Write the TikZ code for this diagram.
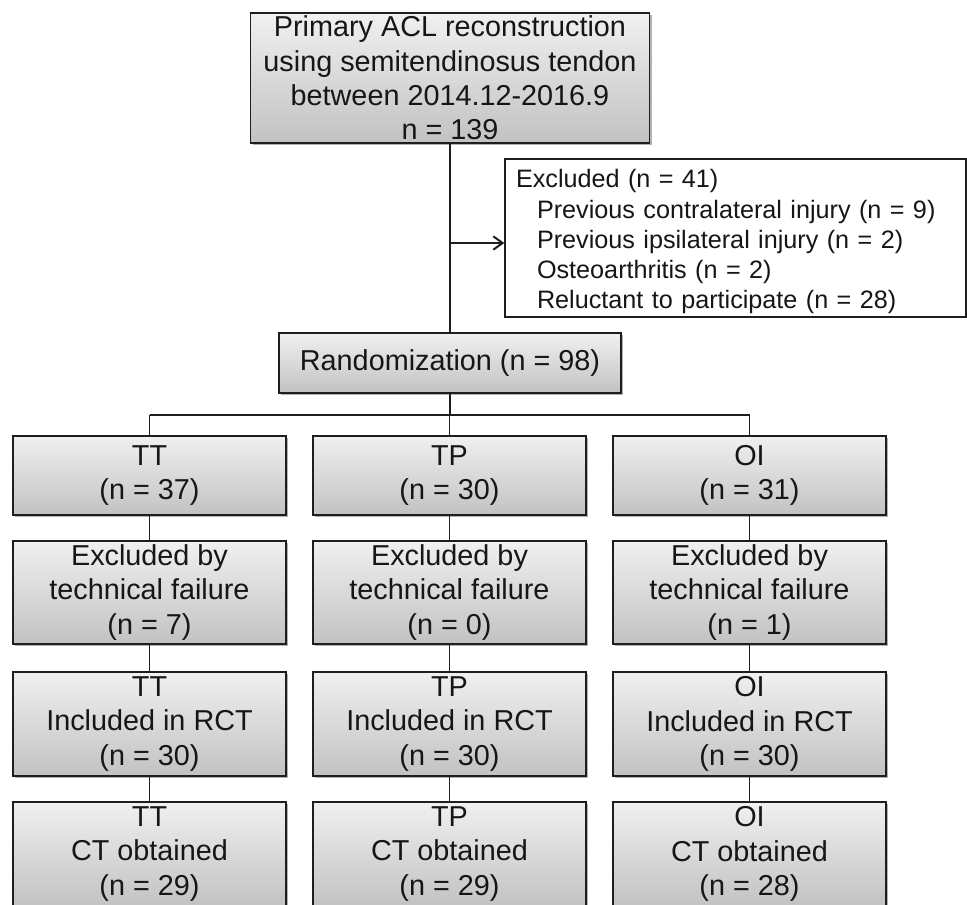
\documentclass[tikz,border=0pt]{standalone}
\usepackage{fontspec}
\setmainfont{Liberation Sans}
\usetikzlibrary{shadows,arrows.meta}
\definecolor{gtop}{RGB}{240,240,240}
\definecolor{gbot}{RGB}{194,194,194}
\definecolor{edge}{RGB}{30,30,30}
\definecolor{txt}{RGB}{22,22,22}
\begin{document}
\begin{tikzpicture}[x=0.75pt,y=-0.75pt,
  shaded/.style={draw=edge, line width=1.3pt, top color=gtop, bottom color=gbot,
    drop shadow={shadow xshift=1.6pt, shadow yshift=-1.6pt, opacity=0.3, fill=black},
    inner sep=0pt, align=center, text=txt, font=\fontsize{21.6}{25.8}\selectfont},
  colbox/.style={shaded, minimum width=204.75pt},
  rowA/.style={colbox, minimum height=59.25pt},
  rowB/.style={colbox, minimum height=77.25pt},
  rowC/.style={colbox, minimum height=78pt},
  exbox/.style={draw=edge, line width=1pt, fill=white, minimum width=345.75pt,
    minimum height=118.5pt, inner xsep=8.25pt, inner ysep=0pt, text width=329.25pt,
    align=left, text=txt, font=\fontsize{18.9}{22.7}\selectfont},
  conn/.style={draw=edge, line width=1.3pt}]
\clip (0,0) rectangle (967,904);
\fill[white] (0,0) rectangle (967,904);

\node[shaded, minimum width=299.25pt, minimum height=97.5pt] (top) at (450,78)
  {Primary ACL reconstruction\\using semitendinosus tendon\\between 2014.12-2016.9\\n = 139};
\node[exbox] (ex) at (735.5,238)
  {\rule{0pt}{19.5pt}Excluded (n = 41)\\
   \hspace*{15.75pt}Previous contralateral injury (n = 9)\\
   \hspace*{15.75pt}Previous ipsilateral injury (n = 2)\\
   \hspace*{15.75pt}Osteoarthritis (n = 2)\\
   \hspace*{15.75pt}Reluctant to participate (n = 28)};
\node[shaded, minimum width=256.5pt, minimum height=45pt] (rand) at (450,363)
  {Randomization (n = 98)};

\node[rowA] (tt1) at (149.5,475.5) {TT\\(n = 37)};
\node[rowA] (tp1) at (449.5,475.5) {TP\\(n = 30)};
\node[rowA] (oi1) at (749.5,475.5) {OI\\(n = 31)};

\node[rowB] (tt2) at (149.5,592.5) {Excluded by\\technical failure\\(n = 7)};
\node[rowB] (tp2) at (449.5,592.5) {Excluded by\\technical failure\\(n = 0)};
\node[rowB] (oi2) at (749.5,592.5) {Excluded by\\technical failure\\(n = 1)};

\node[rowC] (tt3) at (149.5,724) {TT\\Included in RCT\\(n = 30)};
\node[rowC] (tp3) at (449.5,724) {TP\\Included in RCT\\(n = 30)};
\node[rowC] (oi3) at (749.5,724) {OI\\Included in RCT\\(n = 30)};

\node[rowC] (tt4) at (149.5,854) {TT\\CT obtained\\(n = 29)};
\node[rowC] (tp4) at (449.5,854) {TP\\CT obtained\\(n = 29)};
\node[rowC] (oi4) at (749.5,854) {OI\\CT obtained\\(n = 28)};

\coordinate (j) at (450,243);
\coordinate (bar) at (450,415);
\draw[conn] (top.south) -- (rand.north);
\draw[conn, -{Straight Barb[length=7pt,width=10pt,line width=1.5pt]}] (j) -- (j -| ex.west);
\draw[conn] (rand.south) -- (bar);
\draw[conn] (tt1.north |- bar) -- (oi1.north |- bar);
\foreach \c in {tt,tp,oi}{
  \draw[conn] (\c1.north |- bar) -- (\c1.north);
  \draw[conn] (\c1.south) -- (\c2.north);
  \draw[conn] (\c2.south) -- (\c3.north);
  \draw[conn] (\c3.south) -- (\c4.north);
}
\end{tikzpicture}
\end{document}
